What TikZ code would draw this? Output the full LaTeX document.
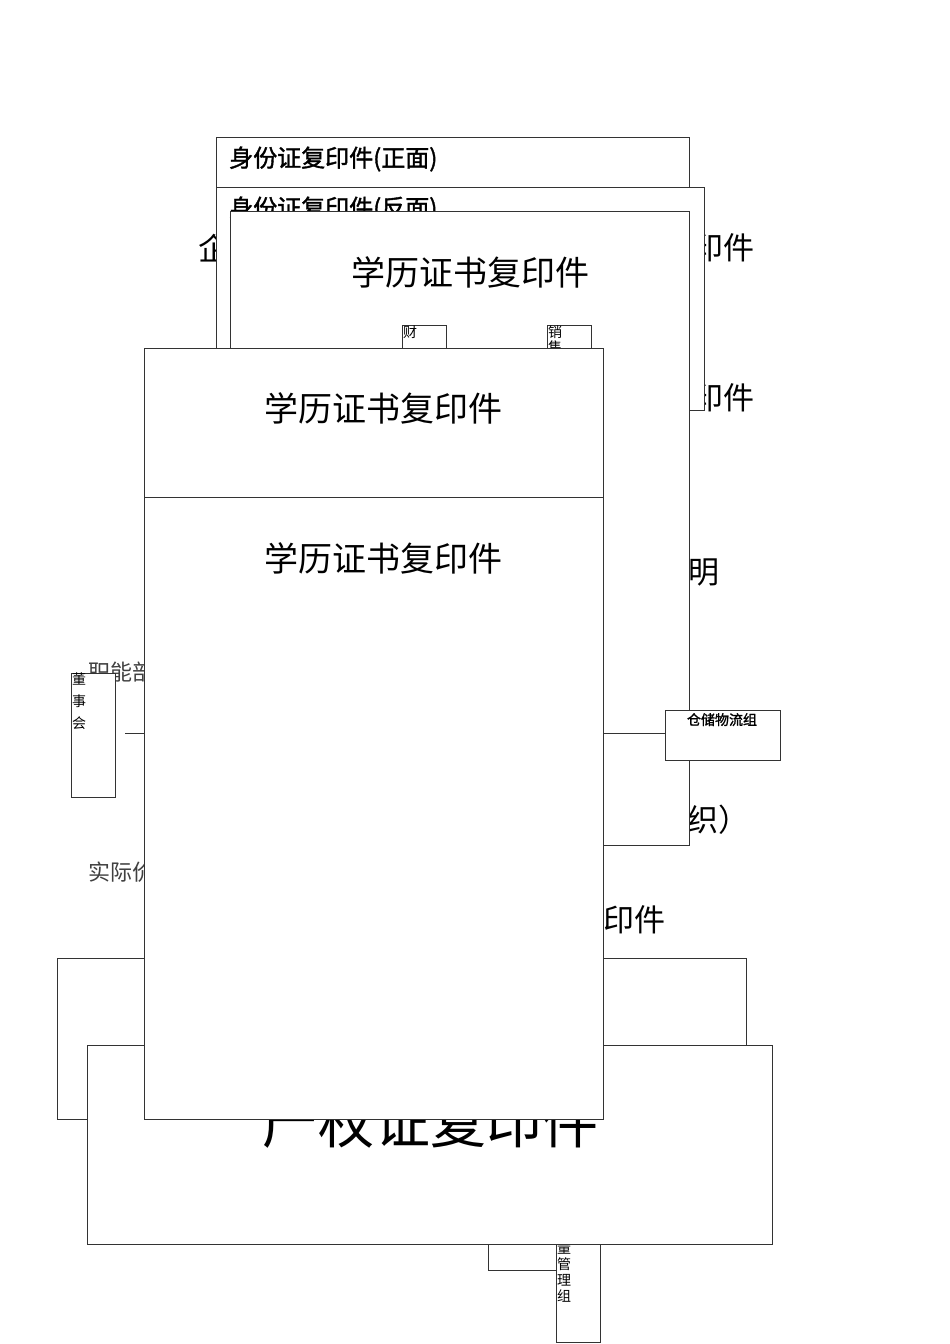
\documentclass[tikz,border=0pt]{standalone}
\usepackage{fontspec}
\setmainfont{Noto Sans CJK SC}
\newfontfamily\cjkb{Noto Sans CJK SC}[FakeBold=1.5]
\begin{document}
\begin{tikzpicture}[x=1pt,y=-1pt,
 box/.style={draw=black!80,fill=white,line width=0.8pt},
 txt/.style={inner sep=0pt,anchor=west},
 ln/.style={draw=black!80,line width=0.8pt}]
\useasboundingbox (0,0) rectangle (950,1344);
% background texts
\node[txt,font=\fontsize{31}{31}\selectfont] (t1) at (198,248) {企};
\node[txt,font=\fontsize{31}{31}\selectfont] (t2) at (692,248) {印件};
\node[txt,font=\fontsize{31}{31}\selectfont] (t3) at (692,398) {印件};
\node[txt,font=\fontsize{31}{31}\selectfont] (t4) at (688,572) {明};
\node[txt,font=\fontsize{31}{31}\selectfont] (t5) at (656,820) {组织）};
\node[txt,font=\fontsize{31}{31}\selectfont] (t6) at (572,920) {复印件};
\node[txt,font=\fontsize{22}{22}\selectfont\color{black!75}] (t7) at (88,672) {职能部门};
\node[txt,font=\fontsize{22}{22}\selectfont\color{black!75}] (t8) at (88,872) {实际价值};
% id boxes
\draw[box] (216,137) rectangle (689,200);
\node[txt,font=\cjkb\fontsize{24}{24}\selectfont] (id1) at (229,159) {身份证复印件(正面)};
\draw[box] (216,187) rectangle (704,410);
\node[txt,font=\cjkb\fontsize{24}{24}\selectfont] (id2) at (229,209) {身份证复印件(反面)};
\draw[box] (230,211) rectangle (689,845);
\node[font=\fontsize{34}{34}\selectfont,inner sep=0pt] (xl1) at (470,272) {学历证书复印件};
\draw[box] (402,325) rectangle (446,360);
\node[txt,anchor=north west,font=\fontsize{14}{15}\selectfont] (cai) at (403,326) {财};
\draw[box] (547,325) rectangle (591,360);
\node[txt,anchor=north west,align=left,font=\fontsize{14}{15}\selectfont] (xs) at (548,326) {销\\售};
% warehouse
\coordinate (wl) at (603,733);
\draw[ln] (wl) -- (665,733);
\draw[box] (665,710) rectangle (780,760);
\node[anchor=north,inner sep=0pt,font=\cjkb\fontsize{14}{14}\selectfont] (cc) at (722,713) {仓储物流组};
% board
\draw[box] (71,673) rectangle (115,797);
\node[anchor=north west,inner sep=0pt,align=left,font=\fontsize{14}{22}\selectfont] (dsh) at (72,673) {董\\事\\会};
\coordinate (bl) at (125,733);
\draw[ln] (bl) -- (144,733);
% quality
\draw[ln] (488,1230) -- (488,1270) -- (556,1270);
\draw[box] (556,1230) rectangle (600,1342);
\node[anchor=north west,inner sep=0pt,align=left,font=\fontsize{14}{16}\selectfont] (zl) at (557,1226) {质\\量\\管\\理\\组};
% bottom boxes
\draw[box] (57,958) rectangle (746,1119);
\draw[box] (87,1045) rectangle (772,1244);
\node[inner sep=0pt,font=\fontsize{56}{56}\selectfont] (cq) at (430,1122) {产权证复印件};
% front box
\draw[box] (144,348) rectangle (603,1119);
\draw[ln] (144,497) -- (603,497);
\node[font=\fontsize{34}{34}\selectfont,inner sep=0pt] (xl2) at (383,408) {学历证书复印件};
\node[font=\fontsize{34}{34}\selectfont,inner sep=0pt] (xl3) at (383,558) {学历证书复印件};
\end{tikzpicture}
\end{document}
